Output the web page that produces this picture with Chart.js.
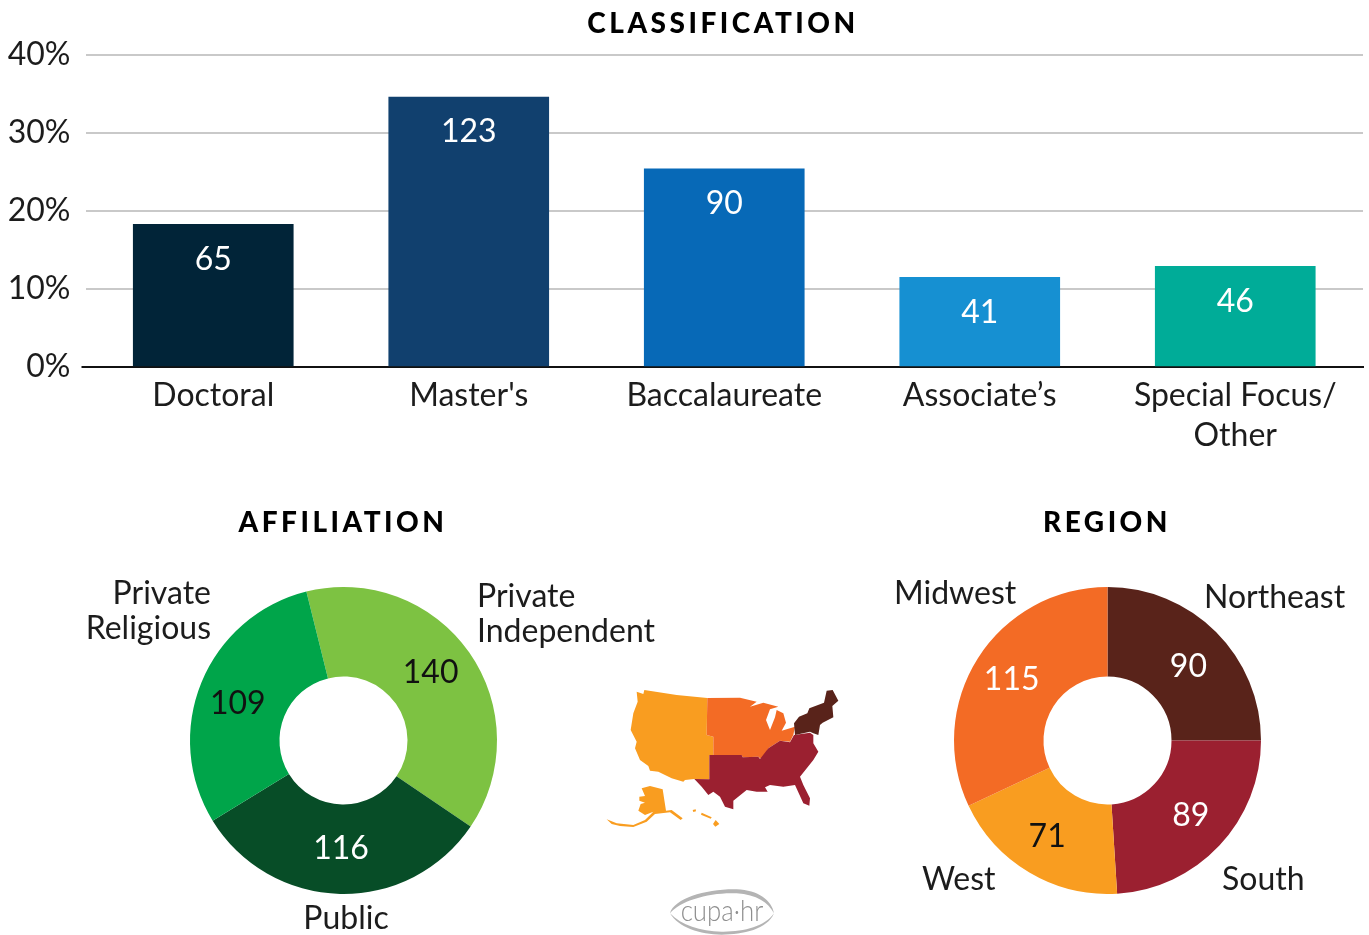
<!DOCTYPE html>
<html>
<head>
<meta charset="utf-8">
<title>Classification, affiliation and region</title>
<script src="https://cdn.jsdelivr.net/npm/chart.js@4/dist/chart.umd.min.js"></script>
<style>
html, body { margin: 0; padding: 0; background: #fff; overflow: hidden; }
#page { position: relative; width: 1369px; height: 935px; overflow: hidden; }
#page canvas, #page svg { position: absolute; }
#classWrap { left: 0; top: 0; width: 1369px; height: 470px; position: absolute; }
#affilWrap { left: 0; top: 470px; width: 687px; height: 465px; position: absolute; }
#regionWrap { left: 846px; top: 470px; width: 523px; height: 465px; position: absolute; }
</style>
</head>
<body>
<div id="page">
  <div id="classWrap"><canvas id="classChart"></canvas></div>
  <div id="affilWrap"><canvas id="affilChart"></canvas></div>
  <div id="regionWrap"><canvas id="regionChart"></canvas></div>

  <!-- map of the regions, same colours as the region donut -->
  <svg style="left:600px;top:680px" width="250" height="160" viewBox="0 0 750 480">
    <polygon fill="#F99D20" points="110,35 130,42 133,30 230,45 322,54 320,165 340,170 340,225 328,225 328,298 283,297 255,300 250,305 215,295 175,275 150,272 145,258 120,240 105,205 110,185 92,150 100,100 113,65"/>
    <polygon fill="#F36B25" points="322,54 420,53 470,65 450,80 490,68 535,80 510,88 498,120 510,150 525,112 530,90 550,100 558,128 545,152 585,140 580,165 570,185 540,182 505,205 490,235 480,235 475,230 428,232 425,225 340,225 340,170 320,165"/>
    <polygon fill="#9B2030" points="328,225 425,225 428,232 475,230 480,237 505,205 540,182 570,187 582,165 630,158 640,165 640,190 655,215 640,240 600,290 610,315 630,355 628,377 610,370 585,315 550,320 510,315 495,322 503,335 470,335 440,330 400,362 400,388 375,380 360,350 340,335 325,345 305,320 283,297 328,298"/>
    <polygon fill="#59231A" points="680,32 698,30 715,62 697,78 700,112 668,128 660,135 655,165 640,160 630,155 585,165 582,130 597,110 622,100 628,85 672,68"/>
    <polygon fill="#F99D20" points="125,325 150,318 188,328 198,392 215,390 248,415 242,420 210,397 165,402 140,425 100,441 60,438 35,432 20,418 50,430 100,435 135,420 160,395 135,405 115,392 122,372 135,368 118,362 118,350 135,348"/>
    <polygon fill="#F99D20" points="278,390 287,388 288,394 280,396"/>
    <polygon fill="#F99D20" points="305,398 335,412 332,416 303,404"/>
    <polygon fill="#F99D20" points="347,420 358,432 346,440 339,432"/>
  </svg>

  <!-- logo -->
  <svg style="left:650px;top:880px" width="140" height="55" viewBox="0 0 420 165">
    <path d="M60 100 C 72 55 170 26 260 28 C 325 30 366 62 372 100 C 355 68 320 44 260 40 C 180 36 90 62 60 100 Z" fill="#b4b4b4"/>
    <path d="M372 100 C 352 148 280 164 215 164 C 150 164 85 142 60 100 C 95 136 150 154 215 155 C 280 156 345 140 372 100 Z" fill="#b4b4b4"/>
    <text x="92" y="122" font-family="Lato" font-weight="300" font-size="88" fill="#8f8f8f" textLength="248" lengthAdjust="spacingAndGlyphs">cupa·hr</text>
  </svg>
</div>

<script>
const classLabels = ["Doctoral", "Master's", "Baccalaureate", "Associate\u2019s", ["Special Focus/", "Other"]];
const classPercent = [18.3, 34.6, 25.4, 11.5, 12.9];
const classCounts = [65, 123, 90, 41, 46];
const classColors = ["#012438", "#11406E", "#0769B7", "#1690D2", "#00AC98"];
const percentTicks = [0, 10, 20, 30, 40];

const affilLabels = ["Private Independent", "Public", "Private Religious"];
const affilCounts = [140, 116, 109];
const affilColors = ["#7DC242", "#074D27", "#00A54A"];
const affilTextColors = ["#111", "#fff", "#111"];

const regionLabels = ["Northeast", "South", "West", "Midwest"];
const regionCounts = [90, 89, 71, 115];
const regionShares = [25, 24, 19, 32];
const regionColors = ["#59231A", "#9B2030", "#F99D20", "#F36B25"];
const regionTextColors = ["#fff", "#fff", "#111", "#fff"];

const FONT = "Lato, sans-serif";
const TEXT_SIZE = 32;
const TEXT_WEIGHT = 400;
const TEXT_COLOR = "#1c1c1c";

Chart.defaults.animation = false;
Chart.defaults.font.family = FONT;
Chart.defaults.font.size = TEXT_SIZE;
Chart.defaults.font.weight = TEXT_WEIGHT;
Chart.defaults.color = TEXT_COLOR;

// heading, value labels and the labels around the donuts
const chartText = {
    id: "chartText",
    afterDraw(chart, args, opts) {
        const ctx = chart.ctx;
        ctx.save();
        ctx.textBaseline = "middle";

        ctx.font = "900 28px " + FONT;
        ctx.letterSpacing = "3.5px";
        ctx.textAlign = "center";
        ctx.fillStyle = "#000";
        ctx.fillText(opts.title, opts.titleX, opts.titleY);
        ctx.letterSpacing = "0px";

        ctx.font = TEXT_WEIGHT + " " + TEXT_SIZE + "px " + FONT;
        chart.getDatasetMeta(0).data.forEach(function (el, i) {
            ctx.fillStyle = opts.valueColors[i];
            const pos = el.tooltipPosition();
            const shift = opts.valueShift ? opts.valueShift[i] : [0, 0];
            const y = chart.config.type === "bar" ? el.y + opts.valueOffset : pos.y;
            ctx.fillText(opts.values[i], pos.x + shift[0], y + shift[1]);
        });

        ctx.fillStyle = TEXT_COLOR;
        (opts.outer || []).forEach(function (item) {
            ctx.textAlign = item.align;
            item.lines.forEach(function (line, n) {
                ctx.fillText(line, item.x, item.y + n * 35);
            });
        });
        ctx.restore();
    },
};

new Chart(document.getElementById("classChart"), {
    type: "bar",
    plugins: [chartText],
    data: {
        labels: classLabels,
        datasets: [{ data: classPercent, backgroundColor: classColors, barThickness: 160, borderWidth: 0 }],
    },
    options: {
        responsive: true,
        maintainAspectRatio: false,
        layout: { padding: { top: 55, right: 6, left: 0, bottom: 0 } },
        plugins: {
            legend: { display: false },
            tooltip: { enabled: false },
            chartText: {
                title: "CLASSIFICATION",
                titleX: 723,
                titleY: 24,
                values: classCounts,
                valueColors: ["#fff", "#fff", "#fff", "#fff", "#fff"],
                valueOffset: 35,
            },
        },
        scales: {
            x: {
                grid: { display: false },
                border: { color: "#111", width: 2 },
                ticks: { padding: 1, maxRotation: 0, autoSkip: false, color: TEXT_COLOR, font: { lineHeight: 1.25 } },
                afterFit(scale) { scale.height = 103; },
            },
            y: {
                min: 0,
                max: 40,
                afterBuildTicks(scale) { scale.ticks = percentTicks.map(function (v) { return { value: v }; }); },
                grid: {
                    tickLength: 4,
                    lineWidth: 2,
                    tickColor: function (c) { return c.tick.value === 0 ? "#111" : "rgba(0,0,0,0)"; },
                    color: function (c) { return c.tick.value === 0 ? "rgba(0,0,0,0)" : "#c9c9c9"; },
                },
                border: { display: false },
                ticks: { padding: 11, color: TEXT_COLOR, callback: function (v) { return v + "%"; } },
                afterFit(scale) { scale.width = 85.5; },
            },
        },
    },
});

function donut(id, labels, slices, counts, colors, textColors, rotation, chartOpts) {
    return new Chart(document.getElementById(id), {
        type: "doughnut",
        plugins: [chartText],
        data: {
            labels: labels,
            datasets: [{ data: slices, backgroundColor: colors, borderWidth: 0 }],
        },
        options: {
            responsive: true,
            maintainAspectRatio: false,
            rotation: rotation,
            radius: 153.5,
            cutout: "41.7%",
            layout: { padding: { top: 76 } },
            plugins: {
                legend: { display: false },
                tooltip: { enabled: false },
                chartText: Object.assign({ titleY: 53, values: counts, valueColors: textColors }, chartOpts),
            },
        },
    });
}

donut("affilChart", affilLabels, affilCounts, affilCounts, affilColors, affilTextColors, -14, {
    title: "AFFILIATION",
    titleX: 343,
    valueShift: [[-2, -5], [0, -1], [-5, 4]],
    outer: [
        { lines: ["Private", "Independent"], x: 477, y: 127, align: "left" },
        { lines: ["Private", "Religious"], x: 211, y: 124, align: "right" },
        { lines: ["Public"], x: 346, y: 449, align: "center" },
    ],
});

donut("regionChart", regionLabels, regionShares, regionCounts, regionColors, regionTextColors, 0, {
    title: "REGION",
    titleX: 261,
    valueShift: [[4, 3], [4, 1], [-5, 3], [-4, -3]],
    outer: [
        { lines: ["Northeast"], x: 358, y: 128, align: "left" },
        { lines: ["South"], x: 376, y: 410, align: "left" },
        { lines: ["West"], x: 76, y: 410, align: "left" },
        { lines: ["Midwest"], x: 48, y: 124, align: "left" },
    ],
});
</script>
</body>
</html>
